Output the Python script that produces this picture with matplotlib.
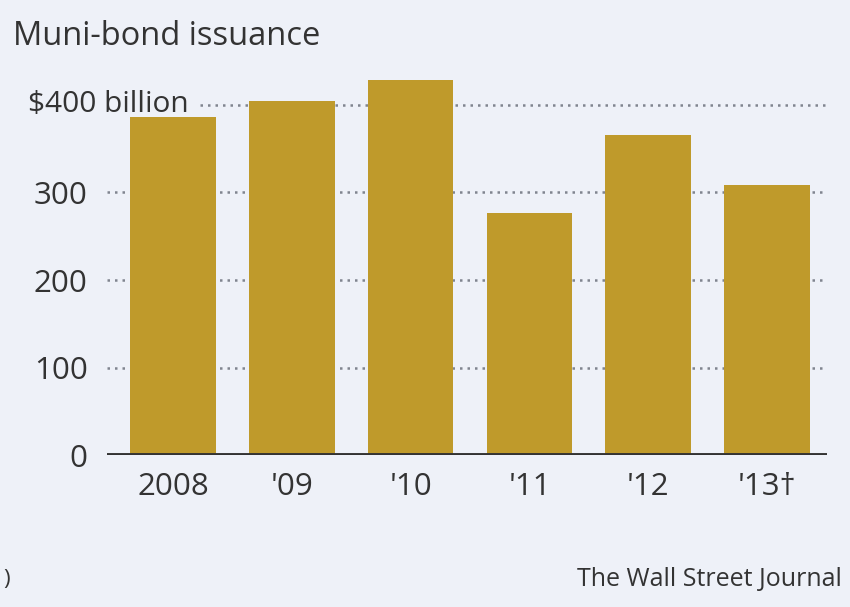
import matplotlib.pyplot as plt

years = ['2008', "'09", "'10", "'11", "'12", "'13\u2020"]
issuance = [386, 404, 429, 277, 366, 309]   # billions of dollars
yticks = [0, 100, 200, 300]
ytick_labels = ['0', '100', '200', '300']

bg = '#eef1f8'
gold = '#bf9a2b'
ink = '#333333'

plt.rcParams['font.family'] = ['Open Sans', 'DejaVu Sans']

fig = plt.figure(figsize=(8.5, 6.07), dpi=100, facecolor=bg)
ax = fig.add_axes([0.126, 0.2504, 0.847, 0.6487], facecolor=bg)

x = list(range(len(years)))
ax.set_xlim(-0.555, 5.505)
ax.set_ylim(0, 450)

# dotted gridlines, behind the bars
for v in yticks[1:]:
    ax.axhline(v, color='#80858f', lw=1.8, ls=(0, (1, 2.0)), zorder=1)
ax.hlines(400, 0.23, 5.505, color='#80858f', lw=1.8, ls=(0, (1, 2.0)), zorder=1)

ax.bar(x, issuance, width=0.72, color=gold, zorder=2)
ax.axhline(0, color='#333333', lw=2.8, zorder=3)

for s in ax.spines.values():
    s.set_visible(False)

ax.set_yticks(yticks)
ax.set_yticklabels(ytick_labels, fontsize=22.5, color=ink)
ax.set_xticks(x)
ax.set_xticklabels(years, fontsize=22.5, color=ink)
ax.tick_params(axis='y', length=0, pad=14)
ax.tick_params(axis='x', length=0, pad=12)

ax.text(0.13, 400, '$400 billion', fontsize=21.5, color=ink, ha='right', va='center')

fig.text(0.015, 0.94, 'Muni-bond issuance', fontsize=23.5, color=ink, ha='left', va='center')
fig.text(0.99, 0.045, 'The Wall Street Journal', fontsize=18, color=ink, ha='right', va='center')
fig.text(0.004, 0.045, ')', fontsize=16, color=ink, ha='left', va='center')

fig.savefig('out.png', dpi=100, facecolor=bg)
